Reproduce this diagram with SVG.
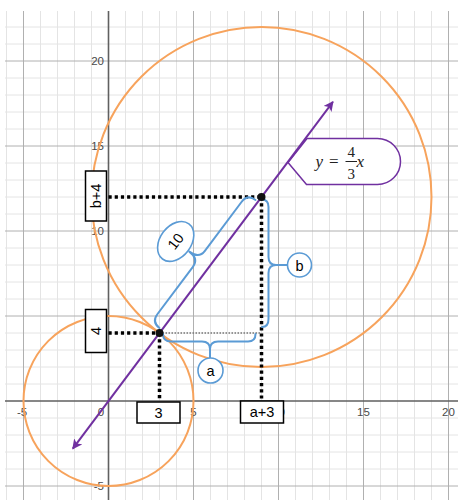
<svg xmlns="http://www.w3.org/2000/svg" width="458" height="500" viewBox="0 0 458 500">
<style>
.minor{stroke:#e4e4e4;stroke-width:1}
.major{stroke:#b0b0b0;stroke-width:1}
.axis{stroke:#606060;stroke-width:1.6}
.tick{font-family:"Liberation Sans",Arial,sans-serif;font-size:11.5px;fill:#4a4a4a}
.circ{fill:none;stroke:#f7a35c;stroke-width:2}
.dotk{stroke:#000;stroke-width:3.5;stroke-dasharray:3.2 3;fill:none}
.dotg{stroke:#777;stroke-width:1.3;stroke-dasharray:1.5 1.5;fill:none}
.box{fill:#fff;stroke:#000;stroke-width:1.5}
.lbl{font-family:"Liberation Sans",Arial,sans-serif;font-size:14.5px;fill:#000;text-anchor:middle}
.brace{fill:none;stroke:#5b9bd5;stroke-width:2;stroke-linecap:round;stroke-linejoin:round}
.bub{fill:#fff;stroke:#5b9bd5;stroke-width:1.6}
.math{font-family:"Liberation Serif","Times New Roman",serif;fill:#222}
</style>
<defs>
<marker id="arr" viewBox="0 0 10 10" refX="9" refY="5" markerWidth="5" markerHeight="5" orient="auto-start-reverse" markerUnits="strokeWidth">
<path d="M0,0 L10,5 L0,10 L2.5,5 Z" fill="#7030a0"/>
</marker>
</defs>
<rect x="0" y="0" width="458" height="500" fill="#fff"/>
<g id="grid">
<g class="minor">
<path d="M6.5,11V500M40.5,11V500M57.5,11V500M74.5,11V500M91.5,11V500M125.5,11V500M142.5,11V500M159.5,11V500M176.5,11V500M210.5,11V500M227.5,11V500M244.5,11V500M261.5,11V500M295.5,11V500M312.5,11V500M329.5,11V500M346.5,11V500M380.5,11V500M397.5,11V500M414.5,11V500M431.5,11V500"/>
<path d="M5,27H458M5,44H458M5,78H458M5,95H458M5,112H458M5,129H458M5,163H458M5,180H458M5,197H458M5,214H458M5,248H458M5,265H458M5,282H458M5,299H458M5,333H458M5,350H458M5,367H458M5,384H458M5,418H458M5,435H458M5,452H458M5,469H458"/>
</g>
<g class="major">
<path d="M23.5,11V500M193.5,11V500M278.5,11V500M363.5,11V500M448.5,11V500"/>
<path d="M5,61H458M5,146H458M5,231H458M5,316H458M5,486H458"/>
</g>
<g class="axis">
<path d="M5,401H458M108.5,11V500"/>
</g>
<g class="tick">
<text x="22" y="416" text-anchor="middle">-5</text>
<text x="101" y="416" text-anchor="middle">0</text>
<text x="193.5" y="416" text-anchor="middle">5</text>
<text x="278.5" y="416" text-anchor="middle">10</text>
<text x="363.5" y="416" text-anchor="middle">15</text>
<text x="448.5" y="416" text-anchor="middle">20</text>
<text x="104" y="65" text-anchor="end">20</text>
<text x="104" y="150" text-anchor="end">15</text>
<text x="104" y="235" text-anchor="end">10</text>
<text x="104" y="490" text-anchor="end">-5</text>
</g>
</g>
<g id="circles">
<circle class="circ" cx="108.5" cy="401" r="85"/>
<circle class="circ" cx="261.5" cy="197" r="170"/>
</g>
<g id="connectors">
<path class="dotk" d="M108.5,333H159.5"/>
<path class="dotk" d="M159.5,333V401"/>
<path class="dotk" d="M108.5,197H261.5"/>
<path class="dotk" d="M261.5,197V401"/>
<path class="dotg" d="M159.5,333H261.5"/>
</g>
<g id="brace-10">
<g transform="translate(159.5,333) rotate(-53.13)">
<path class="brace" d="M4,-3 Q4,-13 14,-13 L73,-13 Q83,-13 83,-25 Q83,-13 93,-13 L154,-13 Q164,-13 164,-3"/>
<ellipse class="bub" cx="83" cy="-42" rx="22" ry="15.5"/>
<text class="lbl" x="83" y="-37" font-size="15">10</text>
</g>
</g>
<g id="brace-b">
<path class="brace" d="M262,199.5 Q268.5,199.5 268.5,207 L268.5,257 Q268.5,265 276,265 Q268.5,265 268.5,273 L268.5,319 Q268.5,327 262,327 M276,265 H287.5"/>
<circle class="bub" cx="299.5" cy="265" r="12"/>
<text class="lbl" x="299.5" y="270.5" font-size="16">b</text>
</g>
<g id="brace-a">
<path class="brace" d="M163,334 Q163,341.5 171,341.5 L202,341.5 Q210,341.5 210,349 Q210,341.5 218,341.5 L248,341.5 Q255.5,341.5 255.5,334 M210,349 V358"/>
<circle class="bub" cx="210.5" cy="370.5" r="12.5"/>
<text class="lbl" x="210.5" y="376" font-size="16">a</text>
</g>
<g id="callout">
<path d="M288,162.5 L307,138.5 L377.5,138.5 A23,23 0 0 1 377.5,184.5 L306.5,184.5 Z" fill="#fff" stroke="#7030a0" stroke-width="1.5"/>
<text class="math" x="315.5" y="167" font-size="17" font-style="italic">y</text>
<text class="math" x="329" y="167" font-size="17">=</text>
<text class="math" x="351.3" y="156.5" font-size="15" text-anchor="middle">4</text>
<path d="M345.5,161.5H357" stroke="#222" stroke-width="1"/>
<text class="math" x="351.3" y="179" font-size="15" text-anchor="middle">3</text>
<text class="math" x="356.5" y="167" font-size="17" font-style="italic">x</text>
</g>
<g id="line">
<path d="M72.8,448.6 L332.9,101.8" stroke="#7030a0" stroke-width="2" fill="none" marker-start="url(#arr)" marker-end="url(#arr)"/>
</g>
<g id="points">
<circle cx="159.5" cy="333" r="4" fill="#111"/>
<circle cx="261.5" cy="197" r="4" fill="#111"/>
</g>
<g id="box-b4">
<rect class="box" x="85.5" y="171" width="21" height="50"/>
<text class="lbl" transform="translate(96,196) rotate(-90)" x="0" y="5">b+4</text>
</g>
<g id="box-4">
<rect class="box" x="85.5" y="309.5" width="21" height="43"/>
<text class="lbl" transform="translate(96,331) rotate(-90)" x="0" y="5">4</text>
</g>
<g id="box-3">
<rect class="box" x="137" y="402" width="43" height="21"/>
<text class="lbl" x="158.5" y="418">3</text>
</g>
<g id="box-a3">
<rect class="box" x="240.5" y="401" width="43" height="22"/>
<text class="lbl" x="262" y="417">a+3</text>
</g>
</svg>
